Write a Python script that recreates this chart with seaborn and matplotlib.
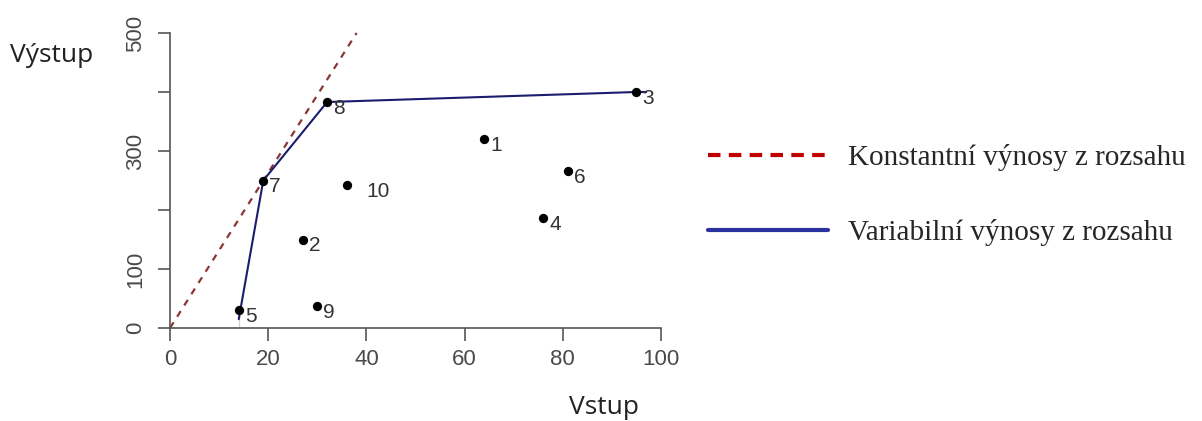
import matplotlib
matplotlib.use("Agg")
import matplotlib.pyplot as plt
import seaborn as sns
import pandas as pd
from matplotlib.lines import Line2D

# ---- data ----
firm_ids = ["1", "2", "3", "4", "5", "6", "7", "8", "9", "10"]
inputs = [64, 27, 95, 76, 14, 81, 19, 32, 30, 36]
outputs = [320, 150, 400, 186, 30, 266, 250, 383, 37, 242]

# VRS frontier (through firms 5, 7, 8, 3)
vrs_x = [14, 14, 19, 32, 95, 97]
vrs_y = [0, 30, 250, 383, 400, 400]
# CRS frontier ray (through firm 7)
crs_x = [0, 38]
crs_y = [0, 500]

x_ticks = [0, 20, 40, 60, 80, 100]
y_ticks = [0, 100, 200, 300, 400, 500]
y_ticklabels = ["0", "100", "", "300", "", "500"]

legend_labels = ["Konstantní výnosy z rozsahu", "Variabilní výnosy z rozsahu"]

sns.set_theme(style="white")
plt.rcParams["font.family"] = ["Liberation Sans", "DejaVu Sans"]

fig = plt.figure(figsize=(12.02, 4.21), dpi=100)
ax = fig.add_axes([170 / 1202, 1 - 328 / 421, 491 / 1202, 295 / 421])

df_pts = pd.DataFrame({"Vstup": inputs, "Výstup": outputs, "id": firm_ids})
sns.lineplot(x=crs_x, y=crs_y, ax=ax, color="#8b3535", linestyle=(0, (3, 3)),
             linewidth=1.6, sort=False, clip_on=False)
sns.lineplot(x=vrs_x, y=vrs_y, ax=ax, color="#1c1c6e", linewidth=1.5,
             sort=False, clip_on=False)
sns.scatterplot(data=df_pts, x="Vstup", y="Výstup", ax=ax, color="black",
                s=45, edgecolor="black", linewidth=0, zorder=5, clip_on=False)

label_offsets = {"10": (20, -6)}
for fid, xv, yv in zip(firm_ids, inputs, outputs):
    dx, dy = label_offsets.get(fid, (6, -6))
    ax.annotate(fid, (xv, yv), xytext=(dx, dy), textcoords="offset pixels",
                ha="left", va="center", fontsize=15, color="#333333")

ax.set_xlim(0, 100)
ax.set_ylim(0, 500)
ax.set_xticks(x_ticks)
ax.set_yticks(y_ticks)
ax.set_yticklabels(y_ticklabels, rotation=90, va="center")
ax.tick_params(axis="both", direction="out", length=9, width=1.2,
               colors="#555555", labelcolor="#4a4a4a", labelsize=16, pad=6)
ax.tick_params(axis="x", bottom=True)
ax.tick_params(axis="y", left=True, pad=8)
for s in ["top", "right"]:
    ax.spines[s].set_visible(False)
for s in ["left", "bottom"]:
    ax.spines[s].set_color("#555555")
    ax.spines[s].set_linewidth(1.2)
ax.set_xlabel("")
ax.set_ylabel("")

fig.text(10 / 1202, 1 - 55 / 421, "Výstup", fontsize=19, family=["Open Sans", "DejaVu Sans"],
         ha="left", va="center", color="#222222")
fig.text(604 / 1202, 1 - 408 / 421, "Vstup", fontsize=19, family=["Open Sans", "DejaVu Sans"],
         ha="center", va="center", color="#222222")

handles = [Line2D([0], [0], color="#c00000", linestyle=(0, (3, 2)), linewidth=3),
           Line2D([0], [0], color="#2a32a0", linewidth=3)]
fig.legend(handles, legend_labels, loc="upper left",
           bbox_to_anchor=(682 / 1202, 1 - 118 / 421), frameon=False,
           prop={"family": ["Liberation Serif", "DejaVu Serif"], "size": 21},
           handlelength=4.1, handletextpad=0.7, labelspacing=1.65)

fig.savefig("out.png", dpi=100)
